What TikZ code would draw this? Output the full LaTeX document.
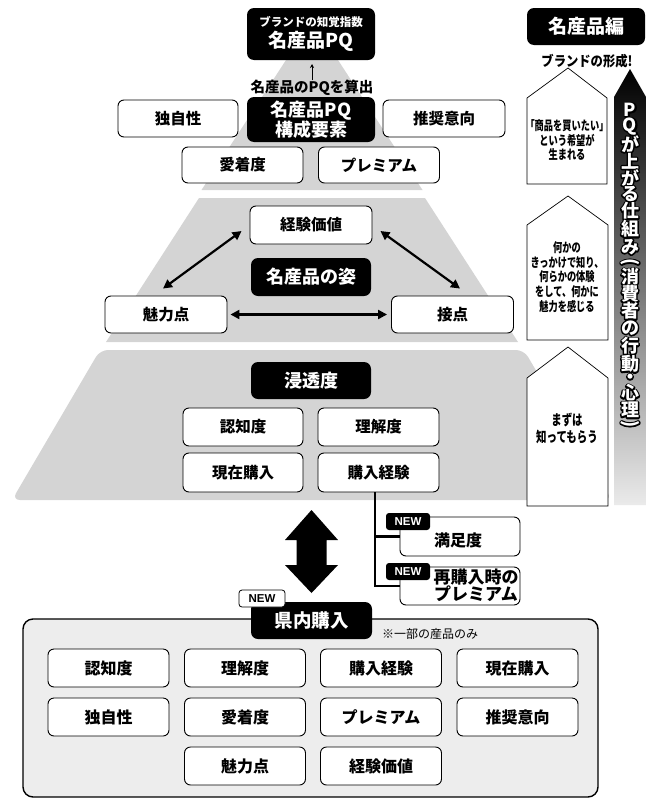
\documentclass[tikz,border=0pt]{standalone}
\usepackage{fontspec}
\setmainfont{Noto Sans CJK JP}
\newfontfamily\jpn{Noto Sans CJK JP}[FakeStretch=0.72]
\newfontfamily\jpm{Noto Sans CJK JP}[FakeStretch=0.88]
\newfontfamily\lat{Liberation Sans}
\usetikzlibrary{arrows.meta,calc}
\newcommand\olchar[4]{%
  \node[vch, text=black, rotate=#4] at (630,#2)
    {\special{pdf:literal direct 2 Tr 2.8 w 1 j 0 G}#3\special{pdf:literal direct 0 Tr}};
  \node[vch, text=white, rotate=#4] (#1) at (630,#2) {#3};}
\begin{document}
\begin{tikzpicture}[x=1pt,y=-1pt,
  wbox/.style={draw=black, line width=0.9pt, fill=white, rounded corners=6pt,
    minimum width=121pt, minimum height=37pt, inner sep=0pt,
    font=\bfseries\fontsize{15.5}{17}\selectfont},
  bbox/.style={fill=black, text=white, rounded corners=7pt, minimum width=121pt,
    minimum height=37pt, inner sep=0pt, align=center,
    font=\bfseries\fontsize{18}{20}\selectfont},
  tier/.style={fill=black!17},
  house/.style={draw=black, line width=0.7pt, fill=white},
  htext/.style={align=center, inner sep=0pt, font=\jpn\bfseries\fontsize{12.8}{14.6}\selectfont},
  newb/.style={fill=black, text=white, rounded corners=3pt, minimum width=44pt,
    minimum height=17pt, inner sep=0pt, font=\lat\bfseries\fontsize{11.5}{12}\selectfont},
  neww/.style={draw=black, line width=0.8pt, fill=white, rounded corners=3pt, minimum width=46pt,
    minimum height=17pt, inner sep=0pt, font=\lat\bfseries\fontsize{11.5}{12}\selectfont},
  dbl/.style={line width=2.2pt, {Triangle[length=9pt,width=9pt]}-{Triangle[length=9pt,width=9pt]}},
  branch/.style={line width=2.5pt},
  vch/.style={inner sep=0pt, font=\bfseries\fontsize{18}{18}\selectfont}
]
\useasboundingbox (0,0) rectangle (647,798);
% pyramid tiers
\fill[tier] (312,20) -- (422.5,190) -- (201.5,190) -- cycle;
\fill[tier] (199,198) -- (425,198) -- (518,342) -- (106,342) -- cycle;
\fill[tier, rounded corners=8pt] (100,350) -- (524,350) -- (612,500) -- (12,500) -- cycle;

% top section
\node[bbox, minimum width=128pt, minimum height=52pt] (toppq) at (311,34)
  {{\fontsize{11.5}{13}\selectfont ブランドの知覚指数}\\[1pt]{\fontsize{19}{20}\selectfont 名産品PQ}};
\node[inner sep=0pt, font=\bfseries\fontsize{14.5}{16}\selectfont] (calc) at (312,88) {名産品のPQを算出};
\coordinate (tipA) at (312,64);
\draw[line width=0.8pt, -{Stealth[length=4pt,width=4pt]}] (calc.north) -- (tipA);
\node[bbox, minimum width=128pt, minimum height=45pt] (kousei) at (311,119.5) {名産品PQ\\構成要素};
\node[wbox, minimum width=120pt] (dokuji) at (178,118.5) {独自性};
\node[wbox, minimum width=122pt] (suisho) at (444,118.5) {推奨意向};
\node[wbox, minimum height=36pt] (aichaku) at (242.5,165) {愛着度};
\node[wbox, minimum height=36pt] (premium) at (379,165) {プレミアム};

% tier 2
\node[wbox, minimum width=122pt, minimum height=38pt] (keiken) at (311,225) {経験価値};
\node[bbox, minimum width=120pt, minimum height=38pt] (sugata) at (311,277) {名産品の姿};
\node[wbox, minimum width=122pt] (miryoku) at (166,314.5) {魅力点};
\node[wbox, minimum width=122pt] (setten) at (452.5,314.5) {接点};
\draw[dbl] ($(miryoku.east)+(3,0)$) -- ($(setten.west)+(-4,0)$);
\draw[dbl] ($(miryoku.north)+(-3,-7)$) -- ($(keiken.west)+(-8,6)$);
\draw[dbl] ($(keiken.east)+(8,6)$) -- ($(setten.north)+(7.5,-7)$);

% tier 3
\node[bbox, minimum width=120pt] (shinto) at (311,380.5) {浸透度};
\node[wbox, minimum width=120pt, minimum height=38pt] (ninchi) at (243,427) {認知度};
\node[wbox, minimum width=121pt, minimum height=38pt] (rikai) at (378.5,427) {理解度};
\node[wbox, minimum width=120pt, minimum height=39pt] (genzai) at (243,472.5) {現在購入};
\node[wbox, minimum width=121pt, minimum height=39pt] (koeki) at (378.5,472.5) {購入経験};

% branch
\node[wbox, minimum width=120pt, minimum height=39pt] (manzoku) at (460,536.5) {};
\node[inner sep=0pt, font=\bfseries\fontsize{16}{17}\selectfont] (manzokuT) at (458,540) {満足度};
\node[wbox, minimum width=120pt, minimum height=38pt] (saikou) at (460,586) {};
\node[inner sep=0pt, align=center, font=\bfseries\fontsize{17}{17}\selectfont] (saikouT) at (476,585.5) {再購入時の\\プレミアム};
\draw[branch] ($(koeki.south)+(-3.5,0)$) |- (manzoku.west);
\draw[branch] ($(koeki.south)+(-3.5,0)$) |- (saikou.west);
\node[newb] (new1) at (408,521.5) {NEW};
\node[newb] (new2) at (408,571.5) {NEW};

% big double arrow
\fill (311.5,510) -- (338,540) -- (326.5,540) -- (326.5,565) -- (338,565) -- (311.5,593)
  -- (285,565) -- (296.5,565) -- (296.5,540) -- (285,540) -- cycle;

% bottom box
\draw[line width=1.4pt, fill=black!7, rounded corners=10pt] (23,619) rectangle (598,797);
\node[bbox, minimum width=121pt, minimum height=37pt, font=\bfseries\fontsize{18.5}{20}\selectfont] (kennai) at (311.5,620.5) {県内購入};
\node[neww] (new3) at (262,598.5) {NEW};
\node[inner sep=0pt, font=\fontsize{12}{13}\selectfont] (note) at (430,634) {※一部の産品のみ};
\begin{scope}[every node/.style={wbox, minimum width=121pt, minimum height=38pt, font=\bfseries\fontsize{16}{17}\selectfont}]
\node (g11) at (108.5,668) {認知度};
\node (g12) at (245,668) {理解度};
\node (g13) at (381,668) {購入経験};
\node (g14) at (517.5,668) {現在購入};
\node (g21) at (108.5,717) {独自性};
\node (g22) at (245,717) {愛着度};
\node (g23) at (381,717) {プレミアム};
\node (g24) at (517.5,717) {推奨意向};
\node (g32) at (245,766) {魅力点};
\node (g33) at (381,766) {経験価値};
\end{scope}

% right column
\node[bbox, minimum width=118pt, minimum height=37pt, font=\bfseries\fontsize{19}{20}\selectfont] (hen) at (586,26.5) {名産品編};
\node[inner sep=0pt, font=\jpm\bfseries\fontsize{14}{15}\selectfont] (keisei) at (587,61) {ブランドの形成!};
\shade[top color=black, bottom color=black!8] (614,97) -- (630,69) -- (646,97) -- (646,505) -- (614,505) -- cycle;
\draw[house] (527,98) -- (568,68) -- (607,98) -- (607,184) -- (527,184) -- cycle;
\draw[house] (527,225) -- (568,196) -- (608,225) -- (608,340) -- (527,340) -- cycle;
\draw[house] (527,378) -- (568,347) -- (608,378) -- (608,506) -- (527,506) -- cycle;
\node[htext] (h1) at (567,140) {「商品を買いたい」\\という希望が\\生まれる};
\node[htext] (h2) at (567,277) {何かの\\きっかけで知り、\\何らかの体験\\をして、何かに\\魅力を感じる};
\node[htext, font=\jpn\bfseries\fontsize{14.5}{17}\selectfont] (h3) at (567,428.5) {まずは\\知ってもらう};

% vertical outlined text
\olchar{v1}{110}{P}{0}
\olchar{v2}{127}{Q}{0}
\olchar{v3}{144}{が}{0}
\olchar{v4}{161}{上}{0}
\olchar{v5}{178}{が}{0}
\olchar{v6}{194}{る}{0}
\olchar{v7}{211}{仕}{0}
\olchar{v8}{229}{組}{0}
\olchar{v9}{247}{み}{0}
\olchar{v10}{262}{(}{-90}
\olchar{v11}{277}{消}{0}
\olchar{v12}{294}{費}{0}
\olchar{v13}{311}{者}{0}
\olchar{v14}{328}{の}{0}
\olchar{v15}{346}{行}{0}
\olchar{v16}{364}{動}{0}
\olchar{v17}{379}{・}{0}
\olchar{v18}{393}{心}{0}
\olchar{v19}{410}{理}{0}
\olchar{v20}{424}{)}{-90}
\end{tikzpicture}
\end{document}
